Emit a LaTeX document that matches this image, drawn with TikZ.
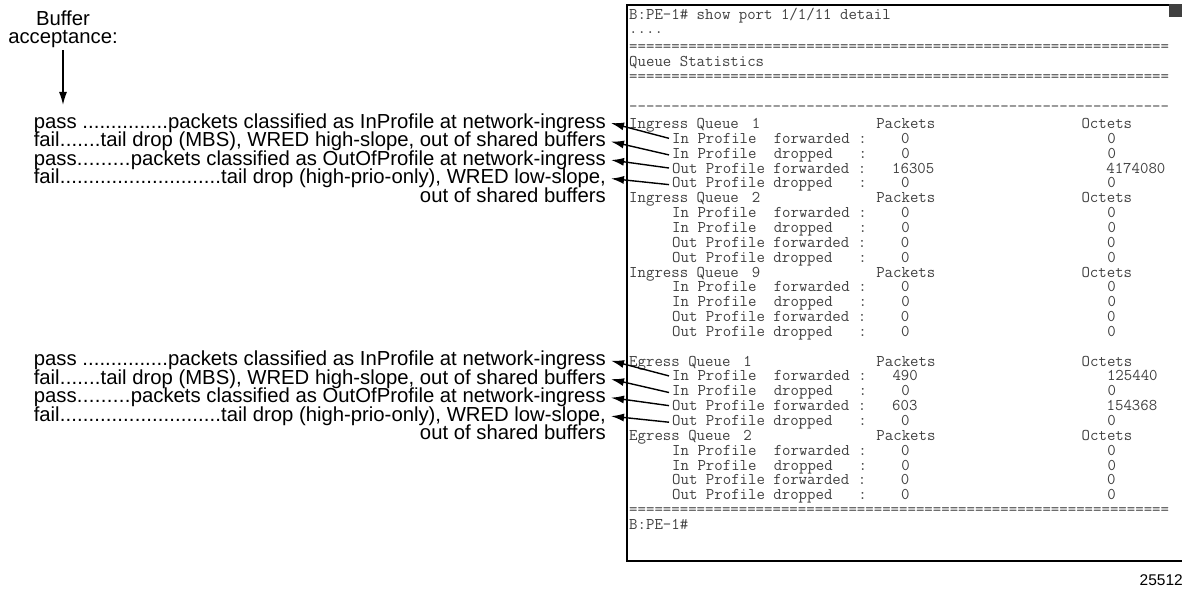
\documentclass[tikz,border=0pt]{standalone}
\usepackage{fontspec}
\setmainfont{Liberation Sans}
\usetikzlibrary{arrows.meta}
\newlength\tcw
\setlength\tcw{8.6pt}
\newcommand\tpad[1]{\hspace*{#1\tcw}}
\ExplSyntaxOn
\cs_new:Npn \myrep #1#2 { \prg_replicate:nn {#1} {#2} }
\ExplSyntaxOff
\newcommand\myleaders{\xleaders\hbox{.}\hfill}
\newcommand\ipf{In Profile\tpad{2}forwarded\tpad{1}:}
\newcommand\ipd{In Profile\tpad{2}dropped\tpad{3}:}
\newcommand\opf{Out Profile forwarded\tpad{1}:}
\newcommand\opd{Out Profile dropped\tpad{3}:}
\newcommand\zz{\tpad{4}0\tpad{23}0}
\newcommand\iqh[1]{Ingress Queue\tpad{1.5}#1\tpad{13.5}Packets\tpad{17}Octets}
\newcommand\eqh[1]{Egress Queue\tpad{1.5}#1\tpad{14.5}Packets\tpad{17}Octets}
\begin{document}
\begin{tikzpicture}[x=1pt,y=-1pt,
  term/.style={font=\ttfamily\fontsize{16.38}{18}\selectfont, text=black!75, inner sep=0pt, anchor=base west},
  trow/.style={term, inner xsep=3pt},
  lbl/.style={font=\fontsize{20.3}{22}\selectfont, inner ysep=0pt, inner xsep=5pt, anchor=base east},
  head/.style={font=\fontsize{20.3}{22}\selectfont, inner sep=0pt, anchor=base},
  ptr/.style={-{Latex[length=13pt,width=8pt]}, line width=1.4pt},
]
\useasboundingbox (0,0) rectangle (1182,591);
\begin{scope}
  \clip (0,0) rectangle (1182,591);
  \draw[line width=1.6pt] (627,5) rectangle (1200,561);
  \fill[black!75] (1169,4.5) rectangle (1190,17);
\end{scope}

% terminal text
\node[term] (t0) at (629,20) {B:PE-1\# show port 1/1/11 detail};
\node[term] (t1) at (629,34) {....};
\node[term] (t2) at (629,52) {\myrep{64}{=}};
\node[term] (t3) at (629,67) {Queue Statistics};
\node[term] (t4) at (629,82) {\myrep{64}{=}};
\node[term] (t6) at (629,112) {\myrep{64}{-}};
\node[term] (t7) at (629,128.5) {\iqh{1}};
\node[trow] (t8) at (669,143.35) {\ipf\zz};
\node[trow] (t9) at (669,158.2) {\ipd\zz};
\node[trow] (t10) at (669,173.05) {\opf\tpad{3}16305\tpad{20}4174080};
\node[trow] (t11) at (669,187.9) {\opd\zz};
\node[term] (t12) at (629,202.75) {\iqh{2}};
\node[trow] (t13) at (669,217.6) {\ipf\zz};
\node[trow] (t14) at (669,232.45) {\ipd\zz};
\node[trow] (t15) at (669,247.3) {\opf\zz};
\node[trow] (t16) at (669,262.15) {\opd\zz};
\node[term] (t17) at (629,277) {\iqh{9}};
\node[trow] (t18) at (669,291.85) {\ipf\zz};
\node[trow] (t19) at (669,306.7) {\ipd\zz};
\node[trow] (t20) at (669,321.55) {\opf\zz};
\node[trow] (t21) at (669,336.4) {\opd\zz};
\node[term] (t23) at (629,366.1) {\eqh{1}};
\node[trow] (t24) at (669,380.95) {\ipf\tpad{3}490\tpad{22}125440};
\node[trow] (t25) at (669,395.8) {\ipd\zz};
\node[trow] (t26) at (669,410.65) {\opf\tpad{3}603\tpad{22}154368};
\node[trow] (t27) at (669,425.5) {\opd\zz};
\node[term] (t28) at (629,440.35) {\eqh{2}};
\node[trow] (t29) at (669,455.2) {\ipf\zz};
\node[trow] (t30) at (669,470.05) {\ipd\zz};
\node[trow] (t31) at (669,484.9) {\opf\zz};
\node[trow] (t32) at (669,499.75) {\opd\zz};
\node[term] (t33) at (629,514.6) {\myrep{64}{=}};
\node[term] (t34) at (629,529.45) {B:PE-1\#};

% left explanation
\node[head] (buf) at (63,25.5) {Buffer};
\node[head] (acc) at (63,44) {acceptance:};
\coordinate (aend) at (63,105);
\draw[ptr, shorten <=2pt] (acc.south) -- (aend);

\node[lbl] (ua) at (611,128.3) {\makebox[572pt][l]{pass \myleaders packets classified as InProfile at network-ingress}};
\node[lbl] (ub) at (611,146.8) {\makebox[572pt][l]{fail\myleaders tail drop (MBS), WRED high-slope, out of shared buffers}};
\node[lbl] (uc) at (611,165.3) {\makebox[572pt][l]{pass\myleaders packets classified as OutOfProfile at network-ingress}};
\node[lbl] (ud) at (611,183.8) {\makebox[572pt][l]{fail\myleaders tail drop (high-prio-only), WRED low-slope,}};
\node[lbl] (ue) at (611,202.3) {out of shared buffers};

\node[lbl] (la) at (611,365.9) {\makebox[572pt][l]{pass \myleaders packets classified as InProfile at network-ingress}};
\node[lbl] (lb) at (611,384.4) {\makebox[572pt][l]{fail\myleaders tail drop (MBS), WRED high-slope, out of shared buffers}};
\node[lbl] (lc) at (611,402.9) {\makebox[572pt][l]{pass\myleaders packets classified as OutOfProfile at network-ingress}};
\node[lbl] (ld) at (611,421.4) {\makebox[572pt][l]{fail\myleaders tail drop (high-prio-only), WRED low-slope,}};
\node[lbl] (le) at (611,439.9) {out of shared buffers};

\draw[ptr] (t8.west) -- (ua.east);
\draw[ptr] (t9.west) -- (ub.east);
\draw[ptr] (t10.west) -- (uc.east);
\draw[ptr] (t11.west) -- (ud.east);
\draw[ptr] (t24.west) -- (la.east);
\draw[ptr] (t25.west) -- (lb.east);
\draw[ptr] (t26.west) -- (lc.east);
\draw[ptr] (t27.west) -- (ld.east);

\node[font=\fontsize{15.5}{16}\selectfont, inner sep=0pt, anchor=base east] (fig) at (1183,585) {25512};
\end{tikzpicture}
\end{document}
